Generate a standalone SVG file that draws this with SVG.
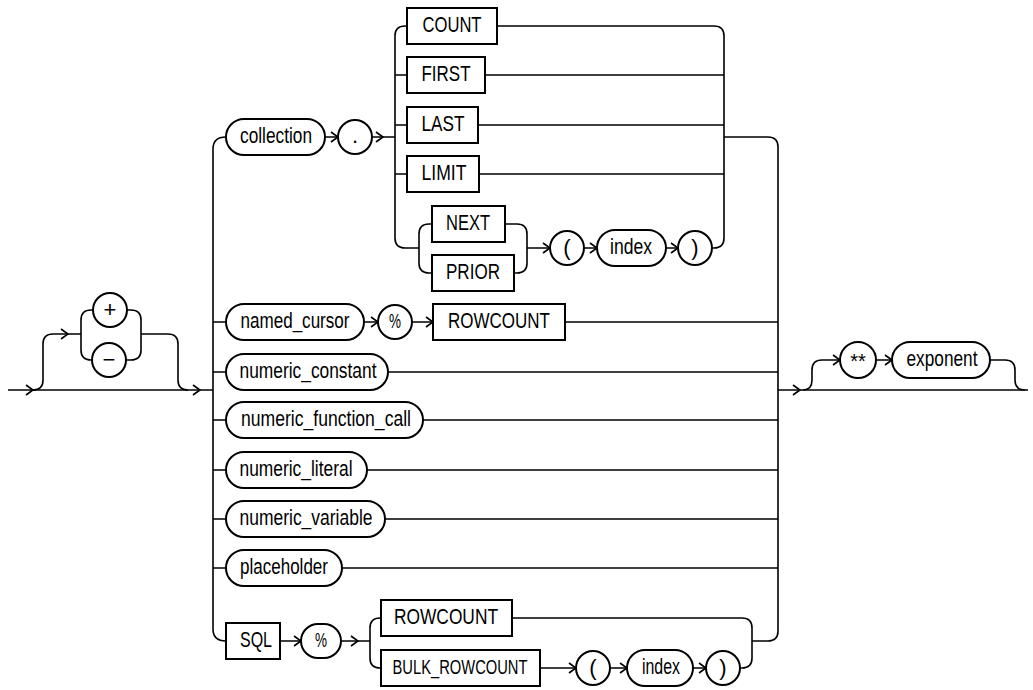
<svg xmlns="http://www.w3.org/2000/svg" xmlns:xlink="http://www.w3.org/1999/xlink" width="1033" height="690" viewBox="0 0 1033 690">
<style>
.ln{fill:none;stroke:#000;stroke-width:1.6}
.nd{fill:#fff;stroke:#000;stroke-width:2}
.tx{font-family:"Liberation Sans",Arial,sans-serif;font-size:22px;text-anchor:middle;fill:#000}
.sm{font-size:20px}
</style>
<defs>
<path id="ah" d="M-7,-5 L0,0 L-7,5" class="ln"/>
</defs>
<rect width="1033" height="690" fill="#fff"/>
<g id="connectors">
<path class="ln" d="M8,390 H213"/>
<path class="ln" d="M33,390 Q43,390 43,380 V344 Q43,334 53,334 H81"/>
<path class="ln" d="M93,310 H91 Q81,310 81,320 V350 Q81,360 91,360 H92"/>
<path class="ln" d="M127,310 H131 Q141,310 141,320 V350 Q141,360 131,360 H126"/>
<path class="ln" d="M141,334 H168 Q178,334 178,344 V380 Q178,390 188,390"/>
<path class="ln" d="M226,137 Q213,137 213,149 V629 Q213,641 226,641"/>
<path class="ln" d="M213,322 H226 M213,372 H226 M213,420 H226 M213,470 H226 M213,519 H226 M213,568 H226"/>
<path class="ln" d="M325,137 H338 M372,137 H395"/>
<path class="ln" d="M407,26 H405 Q395,26 395,36 V238 Q395,248 405,248 H419"/>
<path class="ln" d="M395,75 H407 M395,125 H407 M395,174 H407"/>
<path class="ln" d="M497,26 H714 Q724,26 724,36 V238 Q724,248 714,248 H712"/>
<path class="ln" d="M485,75 H724 M478,125 H724 M479,174 H724"/>
<path class="ln" d="M432,224 H429 Q419,224 419,234 V263 Q419,273 429,273 H432"/>
<path class="ln" d="M505,224 H517 Q527,224 527,234 V263 Q527,273 517,273 H514"/>
<path class="ln" d="M527,248 H550 M584,248 H597 M666,248 H678"/>
<path class="ln" d="M724,137 H768 Q778,137 778,147 V631 Q778,641 768,641 H752"/>
<path class="ln" d="M364,322 H378 M412,322 H433 M565,322 H778"/>
<path class="ln" d="M388,372 H778 M423,420 H778 M367,470 H778 M385,519 H778 M342,568 H778"/>
<path class="ln" d="M280,641 H301 M341,641 H370"/>
<path class="ln" d="M381,618 H380 Q370,618 370,628 V658 Q370,668 380,668 H381"/>
<path class="ln" d="M512,618 H742 Q752,618 752,628 V658 Q752,668 742,668 H740"/>
<path class="ln" d="M540,668 H576 M610,668 H627 M693,668 H706"/>
<path class="ln" d="M778,390 H1028"/>
<path class="ln" d="M803,390 Q812,390 812,380 V370 Q812,360 822,360 H840 M876,360 H892"/>
<path class="ln" d="M990,360 H1005 Q1015,360 1015,370 V380 Q1015,390 1025,390"/>
<use xlink:href="#ah" x="33" y="390"/>
<use xlink:href="#ah" x="68" y="334"/>
<use xlink:href="#ah" x="200" y="390"/>
<use xlink:href="#ah" x="338" y="137"/>
<use xlink:href="#ah" x="383" y="137"/>
<use xlink:href="#ah" x="550" y="248"/>
<use xlink:href="#ah" x="597" y="248"/>
<use xlink:href="#ah" x="678" y="248"/>
<use xlink:href="#ah" x="378" y="322"/>
<use xlink:href="#ah" x="433" y="322"/>
<use xlink:href="#ah" x="301" y="641"/>
<use xlink:href="#ah" x="358" y="641"/>
<use xlink:href="#ah" x="576" y="668"/>
<use xlink:href="#ah" x="627" y="668"/>
<use xlink:href="#ah" x="706" y="668"/>
<use xlink:href="#ah" x="800" y="390"/>
<use xlink:href="#ah" x="840" y="360"/>
<use xlink:href="#ah" x="892" y="360"/>
</g>
<g id="n-plus"><circle class="nd" cx="110" cy="310" r="17"/><text class="tx" x="110" y="317">+</text></g>
<g id="n-minus"><circle class="nd" cx="109" cy="360" r="17"/><text class="tx" x="109" y="367">−</text></g>
<g id="n-collection"><rect class="nd" x="226" y="119" width="99" height="36" rx="18"/><text class="tx" x="276" y="143" textLength="72" lengthAdjust="spacingAndGlyphs">collection</text></g>
<g id="n-dot"><circle class="nd" cx="355" cy="137" r="17"/><text class="tx" x="355" y="143">.</text></g>
<g id="n-count"><rect class="nd" x="407" y="8" width="90" height="36"/><text class="tx" x="452" y="32" textLength="59" lengthAdjust="spacingAndGlyphs">COUNT</text></g>
<g id="n-first"><rect class="nd" x="407" y="57" width="78" height="36"/><text class="tx" x="446" y="81" textLength="49" lengthAdjust="spacingAndGlyphs">FIRST</text></g>
<g id="n-last"><rect class="nd" x="407" y="107" width="71" height="36"/><text class="tx" x="443" y="131" textLength="43" lengthAdjust="spacingAndGlyphs">LAST</text></g>
<g id="n-limit"><rect class="nd" x="407" y="156" width="72" height="36"/><text class="tx" x="444" y="180" textLength="45" lengthAdjust="spacingAndGlyphs">LIMIT</text></g>
<g id="n-next"><rect class="nd" x="432" y="206" width="73" height="36"/><text class="tx" x="468" y="230" textLength="44" lengthAdjust="spacingAndGlyphs">NEXT</text></g>
<g id="n-prior"><rect class="nd" x="432" y="255" width="82" height="36"/><text class="tx" x="473" y="279" textLength="54" lengthAdjust="spacingAndGlyphs">PRIOR</text></g>
<g id="n-lparen1"><circle class="nd" cx="567" cy="248" r="17"/><text class="tx" x="567" y="255">(</text></g>
<g id="n-index1"><rect class="nd" x="597" y="230" width="69" height="36" rx="18"/><text class="tx" x="631" y="254" textLength="42" lengthAdjust="spacingAndGlyphs">index</text></g>
<g id="n-rparen1"><circle class="nd" cx="695" cy="248" r="17"/><text class="tx" x="695" y="255">)</text></g>
<g id="n-named-cursor"><rect class="nd" x="226" y="304" width="138" height="36" rx="18"/><text class="tx" x="295" y="328" textLength="109" lengthAdjust="spacingAndGlyphs">named_cursor</text></g>
<g id="n-pct1"><circle class="nd" cx="395" cy="322" r="17"/><text class="tx sm" x="395" y="328" textLength="12" lengthAdjust="spacingAndGlyphs">%</text></g>
<g id="n-rowcount1"><rect class="nd" x="433" y="304" width="132" height="36"/><text class="tx" x="499" y="328" textLength="102" lengthAdjust="spacingAndGlyphs">ROWCOUNT</text></g>
<g id="n-numeric-constant"><rect class="nd" x="226" y="354" width="162" height="36" rx="18"/><text class="tx" x="308" y="378" textLength="137" lengthAdjust="spacingAndGlyphs">numeric_constant</text></g>
<g id="n-numeric-function-call"><rect class="nd" x="226" y="402" width="197" height="36" rx="18"/><text class="tx" x="326" y="426" textLength="170" lengthAdjust="spacingAndGlyphs">numeric_function_call</text></g>
<g id="n-numeric-literal"><rect class="nd" x="226" y="452" width="141" height="36" rx="18"/><text class="tx" x="296" y="476" textLength="113" lengthAdjust="spacingAndGlyphs">numeric_literal</text></g>
<g id="n-numeric-variable"><rect class="nd" x="226" y="501" width="159" height="36" rx="18"/><text class="tx" x="306" y="525" textLength="133" lengthAdjust="spacingAndGlyphs">numeric_variable</text></g>
<g id="n-placeholder"><rect class="nd" x="226" y="550" width="116" height="36" rx="18"/><text class="tx" x="284" y="574" textLength="88" lengthAdjust="spacingAndGlyphs">placeholder</text></g>
<g id="n-sql"><rect class="nd" x="226" y="623" width="54" height="36"/><text class="tx" x="256" y="647" textLength="32" lengthAdjust="spacingAndGlyphs">SQL</text></g>
<g id="n-pct2"><rect class="nd" x="301" y="624" width="40" height="34" rx="17"/><text class="tx sm" x="321" y="647" textLength="12" lengthAdjust="spacingAndGlyphs">%</text></g>
<g id="n-rowcount2"><rect class="nd" x="381" y="600" width="131" height="36"/><text class="tx" x="446" y="624" textLength="104" lengthAdjust="spacingAndGlyphs">ROWCOUNT</text></g>
<g id="n-bulk-rowcount"><rect class="nd" x="381" y="650" width="159" height="36"/><text class="tx sm" x="460" y="674" textLength="135" lengthAdjust="spacingAndGlyphs">BULK_ROWCOUNT</text></g>
<g id="n-lparen2"><circle class="nd" cx="593" cy="668" r="17"/><text class="tx" x="593" y="675">(</text></g>
<g id="n-index2"><rect class="nd" x="627" y="650" width="66" height="36" rx="18"/><text class="tx" x="661" y="674" textLength="38" lengthAdjust="spacingAndGlyphs">index</text></g>
<g id="n-rparen2"><circle class="nd" cx="723" cy="668" r="17"/><text class="tx" x="723" y="675">)</text></g>
<g id="n-power"><circle class="nd" cx="858" cy="360" r="18"/><text class="tx sm" x="858" y="368">**</text></g>
<g id="n-exponent"><rect class="nd" x="892" y="342" width="98" height="36" rx="18"/><text class="tx" x="942" y="366" textLength="71" lengthAdjust="spacingAndGlyphs">exponent</text></g>
</svg>
